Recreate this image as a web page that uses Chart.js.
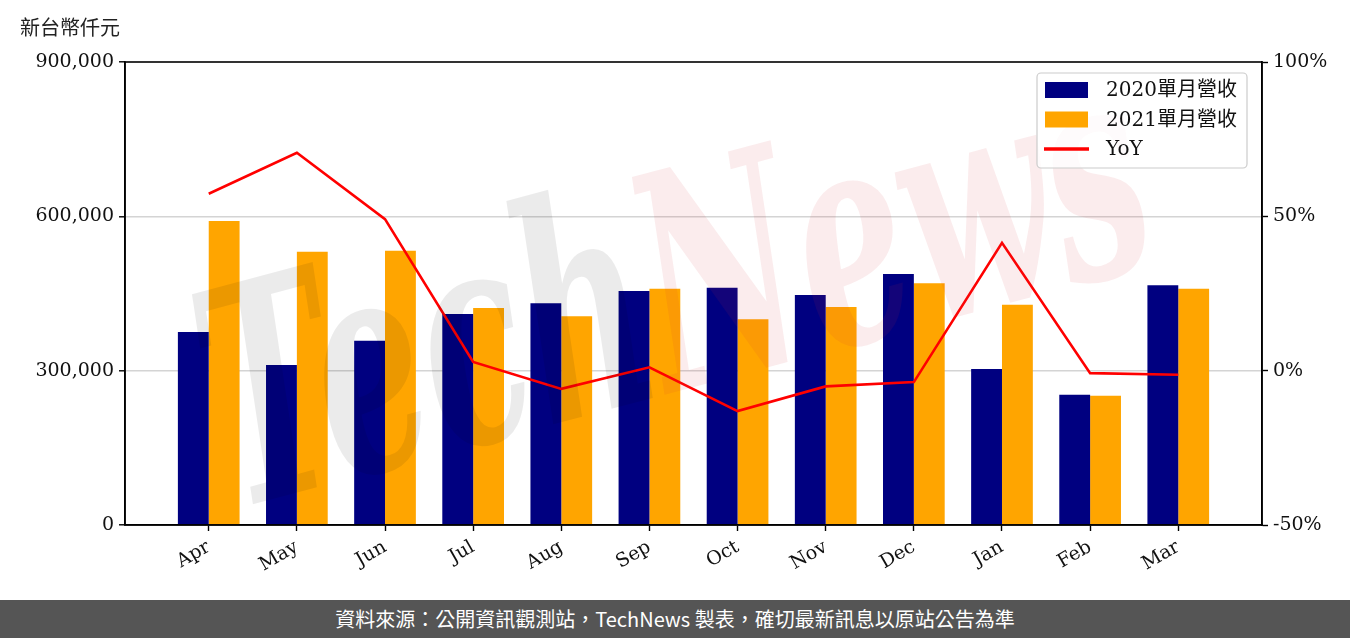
<!DOCTYPE html>
<html>
<head>
<meta charset="utf-8">
<script src="https://cdn.jsdelivr.net/npm/chart.js@4.4.1/dist/chart.umd.min.js"></script>
<style>
  body { margin: 0; background: #fff; }
  #wrap { position: relative; width: 1350px; height: 600px; }
  #footer {
    width: 1350px; height: 38px; line-height: 38px; background: #555555;
    color: #fff; text-align: center; font-family: "Noto Sans CJK TC", "Noto Sans", sans-serif; font-size: 20px;
  }
</style>
</head>
<body>
<div id="wrap"><canvas id="revenueChart"></canvas></div>
<div id="footer">資料來源：公開資訊觀測站，TechNews 製表，確切最新訊息以原站公告為準</div>
<script>
var months = ['Apr', 'May', 'Jun', 'Jul', 'Aug', 'Sep', 'Oct', 'Nov', 'Dec', 'Jan', 'Feb', 'Mar'];
var rev2020 = [375000, 311000, 358000, 410000, 431000, 455000, 461000, 447000, 488000, 303000, 253000, 466000];
var rev2021 = [591000, 531000, 533000, 422000, 406000, 459000, 400000, 424000, 470000, 428000, 251000, 459000];
var yoy = [57.3, 70.6, 49.1, 2.8, -5.9, 1.1, -13.1, -5.1, -3.7, 41.4, -0.8, -1.3];
var leftTicks = [0, 300000, 600000, 900000];
var rightTicks = [-50, 0, 50, 100];
var unitLabel = '新台幣仟元';
var seriesNames = ['2020單月營收', '2021單月營收', 'YoY'];

var serif = '"DejaVu Serif", "Noto Sans CJK TC", serif';

function toPoints(values) {
    return values.map(function(v, i) {
        return { x: i, y: v }
    })
}

// frame, title, watermark and legend box
var decorPlugin = {
    id: 'decor',
    afterDatasetsDraw: function(chart) {
        var ctx = chart.ctx;
        var area = chart.chartArea;

        // watermark
        ctx.save();
        ctx.translate(680, 310);
        ctx.rotate(-0.26);
        ctx.scale(0.72, 1.25);
        ctx.font = 'italic bold 240px "DejaVu Serif"';
        ctx.textBaseline = 'middle';
        var w1 = ctx.measureText('Tech').width;
        var w2 = ctx.measureText('News').width;
        var start = -(w1 + w2) / 2;
        ctx.fillStyle = 'rgba(0, 0, 0, 0.08)';
        ctx.fillText('Tech', start, 0);
        ctx.fillStyle = 'rgba(210, 40, 60, 0.09)';
        ctx.fillText('News', start + w1, 0);
        ctx.restore();

        // frame
        ctx.save();
        ctx.strokeStyle = '#000';
        ctx.lineWidth = 1.6;
        ctx.strokeRect(area.left, area.top, area.right - area.left, area.bottom - area.top);
        ctx.restore();

        // legend
        var boxRight = area.right - 15;
        var boxLeft = boxRight - 210;
        var boxTop = area.top + 11;
        var boxH = 95;
        ctx.save();
        ctx.beginPath();
        ctx.roundRect(boxLeft, boxTop, boxRight - boxLeft, boxH, 4);
        ctx.fillStyle = 'rgba(255, 255, 255, 0.8)';
        ctx.fill();
        ctx.strokeStyle = '#cccccc';
        ctx.lineWidth = 1.2;
        ctx.stroke();
        ctx.font = '20px ' + serif;
        ctx.textBaseline = 'middle';
        ctx.textAlign = 'left';
        var sets = chart.data.datasets;
        var order = [1, 2, 0];
        order.forEach(function(di, row) {
            var ds = sets[di];
            var cy = boxTop + 17 + row * 29.5;
            if (ds.type === 'line') {
                ctx.strokeStyle = ds.borderColor;
                ctx.lineWidth = 3.5;
                ctx.beginPath();
                ctx.moveTo(boxLeft + 7, cy);
                ctx.lineTo(boxLeft + 52, cy);
                ctx.stroke();
            } else {
                ctx.fillStyle = ds.backgroundColor;
                ctx.fillRect(boxLeft + 8, cy - 8, 43, 16);
            }
            ctx.fillStyle = '#111';
            ctx.fillText(ds.label, boxLeft + 69, cy + 1);
        });
        ctx.restore();
    },
    afterDraw: function(chart) {
        var ctx = chart.ctx;
        ctx.save();
        ctx.font = '20px "Noto Sans CJK TC", sans-serif';
        ctx.fillStyle = '#222';
        ctx.textBaseline = 'middle';
        ctx.fillText(unitLabel, 20, 27);
        ctx.restore();
    }
};

var ctx = document.getElementById('revenueChart').getContext('2d');
new Chart(ctx, {
    type: 'bar',
    data: {
        datasets: [{
            type: 'line',
            label: seriesNames[2],
            data: toPoints(yoy),
            yAxisID: 'y1',
            borderColor: '#ff0000',
            borderWidth: 2.6,
            pointRadius: 0,
            tension: 0,
            order: 0
        }, {
            label: seriesNames[0],
            data: toPoints(rev2020),
            backgroundColor: '#000080',
            yAxisID: 'y',
            order: 1
        }, {
            label: seriesNames[1],
            data: toPoints(rev2021),
            backgroundColor: '#ffa500',
            yAxisID: 'y',
            order: 1
        }]
    },
    options: {
        responsive: true,
        maintainAspectRatio: false,
        animation: false,
        categoryPercentage: 0.7,
        barPercentage: 1.0,
        layout: { padding: { top: 62, left: 0, right: 0, bottom: 0 } },
        plugins: {
            legend: { display: false },
            tooltip: { enabled: false }
        },
        scales: {
            x: {
                type: 'linear',
                min: -0.95,
                max: 11.95,
                offset: false,
                afterBuildTicks: function(scale) {
                    scale.ticks = months.map(function(m, i) { return { value: i } });
                },
                afterFit: function(scale) { scale.height = 75 },
                grid: { drawOnChartArea: false, offset: false, tickLength: 6, tickColor: '#000', tickWidth: 1.4 },
                border: { color: '#000', width: 1.6 },
                ticks: {
                    autoSkip: false,
                    minRotation: 30,
                    maxRotation: 30,
                    padding: 5,
                    color: '#111',
                    font: { family: serif, size: 19 },
                    callback: function(v) { return months[v] }
                }
            },
            y: {
                position: 'left',
                min: 0,
                max: 900000,
                afterBuildTicks: function(scale) {
                    scale.ticks = leftTicks.map(function(v) { return { value: v } });
                },
                afterFit: function(scale) { scale.width = 125 },
                grid: {
                    color: function(c) {
                        return (c.tick && c.tick.value > 0 && c.tick.value < 900000) ? '#d4d4d4' : 'rgba(0,0,0,0)'
                    },
                    lineWidth: 1.6,
                    tickLength: 6,
                    tickColor: '#000',
                    tickWidth: 1.4
                },
                border: { color: '#000', width: 1.6 },
                ticks: {
                    padding: 5,
                    color: '#111',
                    font: { family: serif, size: 19 },
                    callback: function(v) { return v.toLocaleString('en-US') }
                }
            },
            y1: {
                position: 'right',
                min: -50,
                max: 100,
                afterBuildTicks: function(scale) {
                    scale.ticks = rightTicks.map(function(v) { return { value: v } });
                },
                afterFit: function(scale) { scale.width = 88 },
                grid: { drawOnChartArea: false, tickLength: 6, tickColor: '#000', tickWidth: 1.4 },
                border: { color: '#000', width: 1.6 },
                ticks: {
                    padding: 5,
                    color: '#111',
                    font: { family: serif, size: 19 },
                    callback: function(v) { return v + '%' }
                }
            }
        }
    },
    plugins: [decorPlugin]
});
</script>
</body>
</html>
